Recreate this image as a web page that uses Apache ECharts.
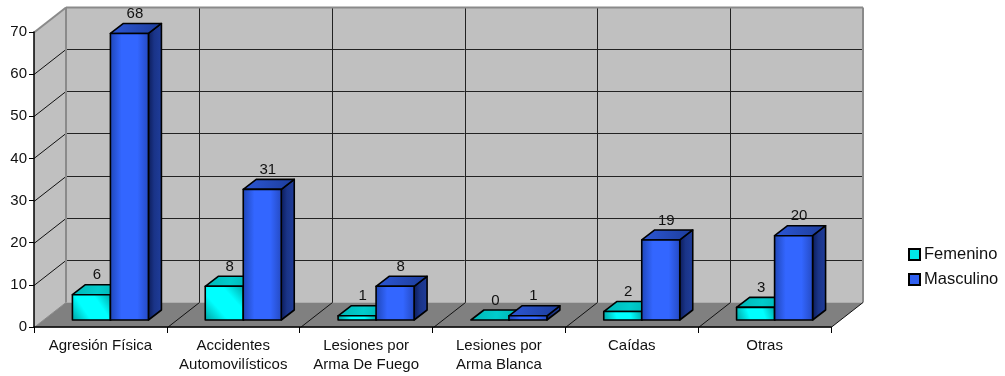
<!DOCTYPE html>
<html>
<head>
<meta charset="utf-8">
<style>html,body{margin:0;padding:0;background:#fff}#chart{width:1005px;height:376px}</style>
<script src="https://cdn.jsdelivr.net/npm/echarts@6/dist/echarts.min.js"></script>
</head>
<body>
<div id="chart"></div>
<script>
const categories = ['Agresión Física', 'Accidentes\nAutomovilísticos', 'Lesiones por\nArma De Fuego', 'Lesiones por\nArma Blanca', 'Caídas', 'Otras'];
const femenino = [6, 8, 1, 0, 2, 3];
const masculino = [68, 31, 8, 1, 19, 20];
const yMax = 70;
const yStep = 10;

const FONT = '"Liberation Sans", Arial, sans-serif';
// Oblique depth of the chart box and of the bars, in pixels.
const BOX_DX = 32, BOX_DY = -25;
const BAR_SHIFT_X = 10, BAR_SHIFT_Y = -7;
const BAR_DX = 13, BAR_DY = -10;
const BAR_W = 38;

const grad = (x, y, x2, y2, stops) => new echarts.graphic.LinearGradient(x, y, x2, y2,
  stops.map((c) => ({ offset: c[0], color: c[1] })));

const palettes = {
  cyan: {
    front: grad(0, 1, 1, 0, [[0, '#009c9c'], [0.35, '#00ffff'], [0.68, '#00ffff'], [1, '#00a4a4']]),
    top: grad(0, 0, 1, 1, [[0, '#00b4b4'], [0.5, '#00cccc'], [1, '#00aaaa']]),
    side: grad(0, 0, 1, 0, [[0, '#006a6a'], [1, '#009c9c']])
  },
  blue: {
    front: grad(0, 0, 1, 0, [[0, '#1e45b4'], [0.3, '#3366ff'], [0.7, '#3366ff'], [1, '#2449c0']]),
    top: grad(0, 0, 1, 1, [[0, '#2d58d8'], [1, '#1c3c98']]),
    side: grad(0, 0, 1, 0, [[0, '#0b1a55'], [0.45, '#1a3488'], [1, '#1f3d9c']])
  }
};

// Back wall, side wall, floor and their grid lines, placed through the axis scales.
function renderBox(params, api) {
  const o = api.coord([0, 0]);
  const band = api.size([1, 0])[0];
  const x0 = o[0] - band / 2;
  const y0 = Math.round(o[1]) + 0.5;
  const yTop = Math.round(api.coord([0, yMax])[1]) + 0.5;
  const x1 = x0 + band * categories.length;
  const poly = (pts, fill) => ({ type: 'polygon', shape: { points: pts }, style: { fill, stroke: null }, silent: true });
  const line = (a, b, stroke, w) => ({
    type: 'line', shape: { x1: a[0], y1: a[1], x2: b[0], y2: b[1] },
    style: { stroke, lineWidth: w }, silent: true
  });
  const kids = [
    poly([[x0 + BOX_DX, yTop + BOX_DY], [x1 + BOX_DX, yTop + BOX_DY], [x1 + BOX_DX, y0 + BOX_DY], [x0 + BOX_DX, y0 + BOX_DY]], '#c0c0c0'),
    poly([[x0, yTop], [x0 + BOX_DX, yTop + BOX_DY], [x0 + BOX_DX, y0 + BOX_DY], [x0, y0]], '#c0c0c0'),
    poly([[x0, y0], [x1, y0], [x1 + BOX_DX, y0 + BOX_DY], [x0 + BOX_DX, y0 + BOX_DY]], '#808080')
  ];
  for (let v = yStep; v < yMax; v += yStep) {
    const y = Math.round(api.coord([0, v])[1]) + 0.5;
    kids.push(line([x0, y], [x0 + BOX_DX, y + BOX_DY], '#111', 1));
    kids.push(line([x0 + BOX_DX, y + BOX_DY], [x1 + BOX_DX, y + BOX_DY], '#222', 1));
  }
  for (let i = 1; i < categories.length; i++) {
    const x = Math.round(x0 + band * i) + 0.5;
    kids.push(line([x + BOX_DX, yTop + BOX_DY], [x + BOX_DX, y0 + BOX_DY], '#222', 1));
    kids.push(line([x, y0], [x + BOX_DX, y0 + BOX_DY], '#111', 1));
  }
  // Grey rims of the walls
  kids.push(line([x0 + BOX_DX, yTop + BOX_DY], [x1 + BOX_DX, yTop + BOX_DY], '#8a8a8a', 2));
  kids.push(line([x0 + BOX_DX, yTop + BOX_DY], [x0 + BOX_DX, y0 + BOX_DY], '#8a8a8a', 2));
  kids.push(line([x1 + BOX_DX, yTop + BOX_DY], [x1 + BOX_DX, y0 + BOX_DY], '#8a8a8a', 2));
  kids.push(line([x0, yTop], [x0 + BOX_DX, yTop + BOX_DY], '#8a8a8a', 2));
  kids.push(line([x0, y0], [x0 + BOX_DX, y0 + BOX_DY], '#8a8a8a', 1));
  kids.push(line([x1, y0], [x1 + BOX_DX, y0 + BOX_DY], '#111', 1));
  return { type: 'group', children: kids, silent: true };
}

// One oblique bar: front, top and side faces plus the value above it.
function barRenderer(colors, seriesOffset) {
  return function (params, api) {
    const cat = api.value(0);
    const val = api.value(1);
    const base = api.coord([cat, 0]);
    const top = api.coord([cat, val]);
    const xl = base[0] + seriesOffset * BAR_W + BAR_SHIFT_X;
    const xr = xl + BAR_W;
    const yb = base[1] + BAR_SHIFT_Y;
    const yt = top[1] + BAR_SHIFT_Y;
    const st = fill => ({ fill, stroke: '#000', lineWidth: 1.6, lineJoin: 'round' });
    const face = (pts, fill) => ({ type: 'polygon', shape: { points: pts }, style: st(fill) });
    const children = [
      face([[xr, yb], [xr + BAR_DX, yb + BAR_DY], [xr + BAR_DX, yt + BAR_DY], [xr, yt]], colors.side),
      face([[xl, yt], [xr, yt], [xr + BAR_DX, yt + BAR_DY], [xl + BAR_DX, yt + BAR_DY]], colors.top)
    ];
    if (yb - yt > 0.5) {
      children.push(face([[xl, yb], [xr, yb], [xr, yt], [xl, yt]], colors.front));
    }
    children.push({
      type: 'text',
      style: {
        x: (xl + xr) / 2 + BAR_DX / 2 - 1, y: yt - 19.5, text: String(val),
        textAlign: 'center', textVerticalAlign: 'middle',
        font: '15px ' + FONT, fill: '#111'
      }
    });
    return { type: 'group', children };
  };
}

const chart = echarts.init(document.getElementById('chart'), null, { renderer: 'canvas' });
chart.setOption({
  animation: false,
  backgroundColor: '#ffffff',
  grid: { left: 34, right: 174, top: 32, bottom: 49, containLabel: false },
  xAxis: {
    type: 'category',
    data: categories,
    axisLine: { lineStyle: { color: '#000', width: 1.5 } },
    axisTick: { show: true, length: 6, alignWithLabel: false, lineStyle: { color: '#000' } },
    axisLabel: { interval: 0, color: '#111', fontFamily: FONT, fontSize: 15, lineHeight: 19, margin: 9 },
    splitLine: { show: false }
  },
  yAxis: {
    type: 'value', min: 0, max: yMax, interval: yStep,
    axisLine: { show: true, lineStyle: { color: '#000', width: 1.5 } },
    axisTick: { show: true, length: 5, lineStyle: { color: '#000' } },
    axisLabel: { color: '#111', fontFamily: FONT, fontSize: 15, margin: 7 },
    splitLine: { show: false }
  },
  legend: {
    data: ['Femenino', 'Masculino'],
    orient: 'vertical', left: 903, top: 241,
    itemWidth: 11, itemHeight: 11, itemGap: 8,
    icon: 'rect',
    selectedMode: false,
    textStyle: { fontFamily: FONT, fontSize: 16.5, color: '#111', padding: [0, 0, 0, -1] }
  },
  series: [
    {
      type: 'custom', name: 'box', data: [[0, 0]], renderItem: renderBox, silent: true, z: 0, clip: false,
      encode: { x: 0, y: 1 }
    },
    {
      type: 'custom', name: 'Femenino', z: 3, clip: false,
      data: femenino.map((v, i) => [i, v]),
      renderItem: barRenderer(palettes.cyan, -1),
      encode: { x: 0, y: 1 },
      itemStyle: { color: '#00e8e8', borderColor: '#000', borderWidth: 1.5 }
    },
    {
      type: 'custom', name: 'Masculino', z: 4, clip: false,
      data: masculino.map((v, i) => [i, v]),
      renderItem: barRenderer(palettes.blue, 0),
      encode: { x: 0, y: 1 },
      itemStyle: { color: '#3060f0', borderColor: '#000', borderWidth: 1.5 }
    }
  ]
});
</script>
</body>
</html>
